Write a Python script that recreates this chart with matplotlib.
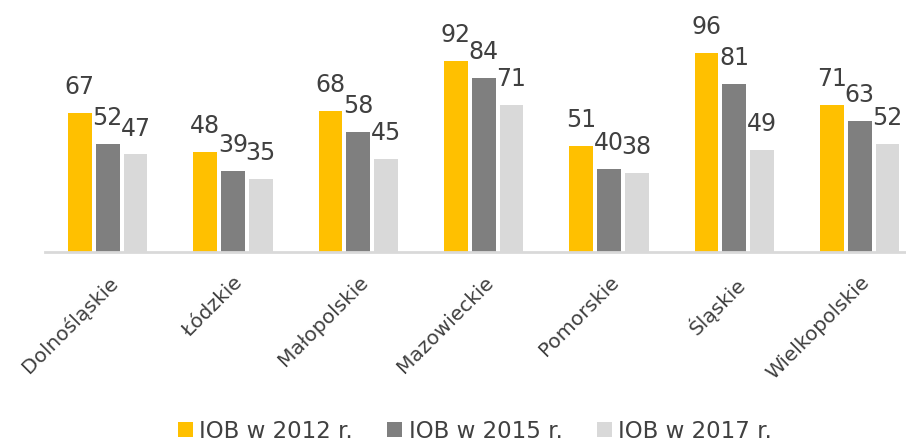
import numpy as np
import matplotlib
matplotlib.use('Agg')
import matplotlib.pyplot as plt

# Data
regions = ['Dolnośląskie', 'Łódzkie', 'Małopolskie', 'Mazowieckie',
           'Pomorskie', 'Śląskie', 'Wielkopolskie']
iob_2012 = [67, 48, 68, 92, 51, 96, 71]
iob_2015 = [52, 39, 58, 84, 40, 81, 63]
iob_2017 = [47, 35, 45, 71, 38, 49, 52]
series_names = ['IOB w 2012 r.', 'IOB w 2015 r.', 'IOB w 2017 r.']

colors = ['#FFC000', '#7F7F7F', '#D9D9D9']
text_color = '#404040'

plt.rcParams['font.family'] = ['DejaVu Sans']

W, H = 906, 443
fig = plt.figure(figsize=(W / 100, H / 100), dpi=100)
# axes placed in pixel terms: baseline at y=252, left at x=45
ax = fig.add_axes([45 / W, (H - 252) / H, (W - 45) / W, 242 / H])

x = np.arange(len(regions))
bw = 0.19
step = 0.222
for i, (vals, name) in enumerate(zip([iob_2012, iob_2015, iob_2017], series_names)):
    pos = x + (i - 1) * step
    bars = ax.bar(pos, vals, width=bw, color=colors[i], label=name)
    for b, v in zip(bars, vals):
        ax.annotate(str(v), (b.get_x() + b.get_width() / 2, v),
                    xytext=(0, 10), textcoords='offset points',
                    ha='center', va='bottom', fontsize=17, color=text_color)

ax.set_xlim(-0.5, 6.37)
ax.set_ylim(0, 116.6)
ax.set_yticks([])
ax.set_xticks(x)
ax.set_xticklabels(regions, rotation=45, ha='right', rotation_mode='anchor',
                   fontsize=14.5, color=text_color)
ax.tick_params(axis='x', length=0, pad=15)
for s in ['top', 'right', 'left']:
    ax.spines[s].set_visible(False)
ax.spines['bottom'].set_color('#D9D9D9')
ax.spines['bottom'].set_linewidth(2)

leg = fig.legend(loc='center', bbox_to_anchor=(475 / W, 1 - 431 / H), ncol=3,
                 frameon=False, fontsize=16.5, handlelength=0.65, handleheight=0.65,
                 handletextpad=0.27, columnspacing=1.5, borderaxespad=0)
for t in leg.get_texts():
    t.set_color(text_color)

fig.savefig('out.png', dpi=100)
